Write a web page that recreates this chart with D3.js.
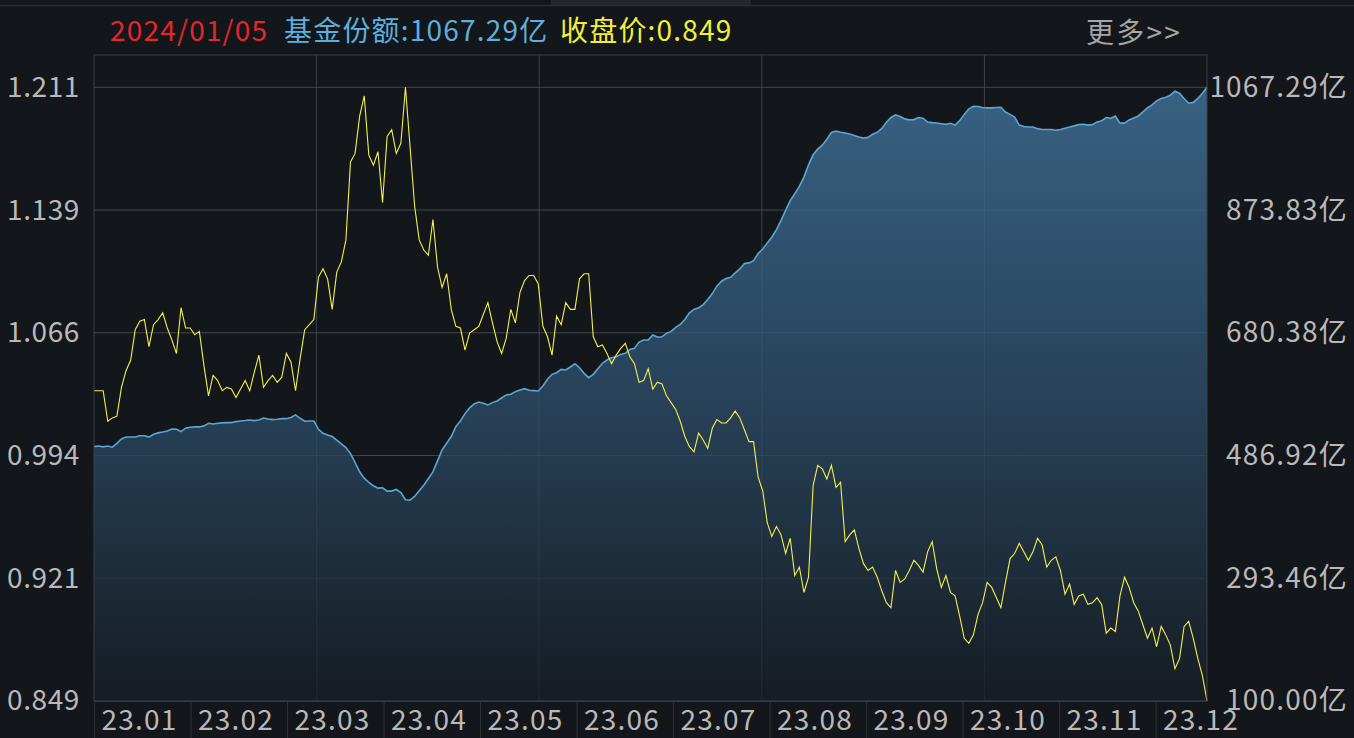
<!DOCTYPE html>
<html>
<head>
<meta charset="utf-8">
<script src="https://cdn.jsdelivr.net/npm/d3@7/dist/d3.min.js"></script>
<style>
html, body { margin: 0; padding: 0; background: #13161a; overflow: hidden; }
#chart text { font-family: "Noto Sans CJK SC", "Noto Sans", sans-serif; }
</style>
</head>
<body>
<div id="chart"></div>
<script>
// month boxes on the bottom strip
var monthLabels = ['23.01', '23.02', '23.03', '23.04', '23.05', '23.06',
	'23.07', '23.08', '23.09', '23.10', '23.11', '23.12'];

// left axis (close price) and right axis (fund shares, 亿)
var priceTicks = ['1.211', '1.139', '1.066', '0.994', '0.921', '0.849'];
var shareTicks = [1067.29, 873.83, 680.38, 486.92, 293.46, 100.00];

var lastDate = '2024/01/05';
var lastShares = '1067.29亿';
var lastClose = '0.849';

// daily close price, 2023-01 .. 2024-01-05
var closePrice = [
	1.032, 1.032, 1.032, 1.014, 1.016, 1.017, 1.034, 1.044, 1.050, 1.068,
	1.073, 1.074, 1.058, 1.071, 1.074, 1.078, 1.069, 1.062, 1.054, 1.081,
	1.069, 1.069, 1.065, 1.067, 1.047, 1.029, 1.041, 1.038, 1.032, 1.034,
	1.033, 1.028, 1.033, 1.038, 1.032, 1.043, 1.053, 1.034, 1.038, 1.041,
	1.037, 1.040, 1.054, 1.049, 1.032, 1.051, 1.068, 1.071, 1.074, 1.099,
	1.104, 1.098, 1.080, 1.102, 1.108, 1.121, 1.167, 1.172, 1.194, 1.206,
	1.171, 1.165, 1.173, 1.143, 1.182, 1.186, 1.172, 1.178, 1.211, 1.176,
	1.141, 1.121, 1.115, 1.112, 1.133, 1.105, 1.093, 1.101, 1.080, 1.070,
	1.069, 1.056, 1.066, 1.068, 1.070, 1.077, 1.084, 1.072, 1.061, 1.054,
	1.063, 1.080, 1.072, 1.090, 1.097, 1.100, 1.100, 1.095, 1.070, 1.064,
	1.053, 1.076, 1.071, 1.084, 1.080, 1.080, 1.098, 1.101, 1.101, 1.064,
	1.058, 1.059, 1.054, 1.048, 1.053, 1.057, 1.060, 1.052, 1.048, 1.037,
	1.038, 1.045, 1.033, 1.037, 1.036, 1.029, 1.025, 1.021, 1.014, 1.005,
	0.999, 0.996, 1.007, 1.003, 0.998, 1.010, 1.015, 1.013, 1.013, 1.016,
	1.020, 1.016, 1.009, 1.002, 1.002, 0.981, 0.973, 0.954, 0.946, 0.952,
	0.947, 0.936, 0.945, 0.923, 0.928, 0.913, 0.922, 0.976, 0.988, 0.986,
	0.980, 0.988, 0.975, 0.978, 0.943, 0.947, 0.950, 0.939, 0.930, 0.926,
	0.928, 0.922, 0.914, 0.907, 0.904, 0.926, 0.919, 0.921, 0.926, 0.932,
	0.929, 0.925, 0.937, 0.943, 0.927, 0.916, 0.923, 0.913, 0.911, 0.899,
	0.886, 0.883, 0.888, 0.900, 0.907, 0.919, 0.916, 0.910, 0.904, 0.919,
	0.933, 0.936, 0.942, 0.937, 0.932, 0.937, 0.945, 0.941, 0.928, 0.932,
	0.934, 0.926, 0.912, 0.918, 0.906, 0.911, 0.912, 0.906, 0.907, 0.910,
	0.906, 0.889, 0.892, 0.890, 0.911, 0.922, 0.916, 0.907, 0.902, 0.894,
	0.886, 0.892, 0.881, 0.893, 0.888, 0.882, 0.868, 0.874, 0.893, 0.896,
	0.886, 0.874, 0.864, 0.849
];

// daily fund shares (亿份)
var fundShares = [
	501.0, 502.0, 500.5, 502.0, 500.0, 506.0, 513.0, 516.0, 516.0, 516.0,
	518.0, 518.0, 516.0, 520.5, 522.6, 524.0, 525.7, 528.8, 528.3, 524.6,
	530.0, 531.5, 532.0, 532.0, 533.6, 537.8, 536.7, 537.8, 538.3, 538.8,
	538.8, 540.4, 541.4, 542.0, 543.0, 542.0, 543.0, 546.0, 544.6, 543.5,
	544.0, 545.0, 545.0, 547.0, 551.0, 545.6, 540.9, 541.4, 541.4, 528.3,
	522.0, 519.4, 516.8, 511.0, 505.3, 499.5, 490.0, 475.9, 461.2, 451.2,
	444.4, 439.2, 435.5, 436.0, 430.8, 430.8, 433.4, 428.7, 417.2, 416.7,
	422.4, 431.3, 440.2, 450.7, 461.2, 478.5, 495.8, 506.3, 516.8, 532.5,
	541.4, 553.0, 562.0, 568.2, 571.3, 569.2, 566.6, 570.3, 572.9, 577.6,
	582.4, 583.4, 587.6, 590.2, 592.3, 589.7, 589.2, 588.6, 596.5, 607.0,
	614.9, 617.5, 622.7, 621.7, 626.4, 631.6, 625.3, 616.4, 609.6, 614.9,
	623.8, 632.2, 637.4, 641.1, 642.7, 646.3, 647.9, 654.2, 655.8, 665.7,
	668.9, 668.9, 677.0, 673.6, 674.1, 679.3, 682.5, 688.8, 693.5, 701.4,
	711.8, 717.1, 719.7, 724.9, 732.8, 742.2, 753.8, 761.6, 765.8, 767.9,
	774.8, 781.0, 789.4, 790.5, 794.1, 805.2, 812.5, 822.0, 831.4, 842.9,
	857.6, 873.3, 888.5, 899.5, 911.1, 925.8, 945.1, 960.9, 969.8, 976.1,
	985.5, 996.0, 998.3, 996.5, 995.3, 993.7, 991.5, 988.8, 987.2, 988.3,
	993.2, 996.4, 1002.4, 1012.1, 1019.7, 1024.0, 1021.3, 1017.5, 1015.9, 1016.4,
	1019.7, 1018.6, 1012.6, 1011.6, 1011.0, 1009.9, 1008.9, 1010.5, 1007.8, 1014.8,
	1024.6, 1033.2, 1037.5, 1037.0, 1035.4, 1034.8, 1034.8, 1035.4, 1035.9, 1028.3,
	1024.6, 1020.2, 1007.8, 1005.6, 1004.6, 1004.6, 1002.1, 1000.8, 1000.8, 1000.8,
	999.6, 1000.8, 1002.7, 1004.6, 1006.5, 1008.4, 1009.0, 1007.7, 1008.4, 1012.7,
	1014.6, 1019.6, 1018.4, 1022.1, 1010.9, 1010.9, 1015.9, 1019.0, 1022.1, 1028.4,
	1034.7, 1039.7, 1046.0, 1049.7, 1051.6, 1054.8, 1061.0, 1057.9, 1049.7, 1042.2,
	1043.5, 1049.7, 1057.9, 1067.29
];

var width = 1354, height = 738;
var plotLeft = 94, plotRight = 1207, plotTop = 55, plotBottom = 701, gridTop = 87.3;
var labelColor = '#b9b9b9';
var gridColor = '#363a40';
var fontSize = '28px';
var spacing = '1.2px';

var svg = d3.select('#chart')
	.append('svg')
	.attr('width', width)
	.attr('height', height)
	.style('background-color', '#13161a')
	.style('display', 'block');

var x = d3.scaleLinear().domain([0, closePrice.length - 1]).range([plotLeft, plotRight]);
var yPrice = d3.scaleLinear().domain([0.849, 1.211]).range([plotBottom, gridTop]);
var yShare = d3.scaleLinear().domain([100, 1067.29]).range([plotBottom, gridTop]);
var yLeft = d3.scalePoint().domain(priceTicks).range([gridTop, plotBottom]);
var xMonth = d3.scaleBand().domain(monthLabels).range([94.6, 94.6 + 96.5 * 12]);

function vx(d) {
	return plotLeft + (plotRight - plotLeft) * d / 5;
}

// top strip
svg.append('line')
	.attr('x1', 0).attr('x2', width)
	.attr('y1', 5.5).attr('y2', 5.5)
	.style('stroke', '#2b2e34')
	.style('stroke-width', 1.5);
svg.append('rect')
	.attr('x', 551).attr('y', 0)
	.attr('width', 200).attr('height', 5)
	.style('fill', '#24272c');

// header
var header = [
	{text: lastDate, x: 110, color: '#e5262b'},
	{text: '基金份额:' + lastShares, x: 284, color: '#5eafdc'},
	{text: '收盘价:' + lastClose, x: 560, color: '#f3ee3a'}
];
svg.selectAll('.header').data(header).enter().append('text')
	.attr('class', 'header')
	.attr('x', function(d) { return d.x; })
	.attr('y', 41)
	.style('font-size', fontSize)
	.style('letter-spacing', spacing)
	.style('fill', function(d) { return d.color; })
	.text(function(d) { return d.text; });

svg.append('text')
	.attr('x', 1086)
	.attr('y', 43)
	.style('font-size', fontSize)
	.style('letter-spacing', '2.2px')
	.style('fill', '#a5a5a5')
	.text('更多>>');

// gradient for share area
var grad = svg.append('defs').append('linearGradient')
	.attr('id', 'shareFill')
	.attr('gradientUnits', 'userSpaceOnUse')
	.attr('x1', 0).attr('x2', 0)
	.attr('y1', gridTop).attr('y2', plotBottom);
grad.append('stop').attr('offset', '0%').attr('stop-color', '#386182');
grad.append('stop').attr('offset', '55%').attr('stop-color', '#263f55');
grad.append('stop').attr('offset', '100%').attr('stop-color', '#161c23');

// grid
var g = svg.append('g');
g.selectAll('.hgrid').data(shareTicks).enter().append('line')
	.attr('class', 'hgrid')
	.attr('x1', plotLeft).attr('x2', plotRight)
	.attr('y1', function(d) { return yShare(d); })
	.attr('y2', function(d) { return yShare(d); })
	.style('stroke', gridColor)
	.style('stroke-width', 1);

g.selectAll('.vgrid').data(d3.range(1, 5)).enter().append('line')
	.attr('class', 'vgrid')
	.attr('x1', vx).attr('x2', vx)
	.attr('y1', plotTop).attr('y2', plotBottom)
	.style('stroke', gridColor)
	.style('stroke-width', 1);

// share area + line
var area = d3.area()
	.x(function(d, i) { return x(i); })
	.y0(plotBottom)
	.y1(function(d) { return yShare(d); });
var shareLine = d3.line()
	.x(function(d, i) { return x(i); })
	.y(function(d) { return yShare(d); });

svg.append('path')
	.datum(fundShares)
	.attr('d', area)
	.style('fill', 'url(#shareFill)');

// grid lines show faintly through the area
svg.selectAll('.hgrid2').data(shareTicks).enter().append('line')
	.attr('x1', plotLeft).attr('x2', plotRight)
	.attr('y1', function(d) { return yShare(d); })
	.attr('y2', function(d) { return yShare(d); })
	.style('stroke', '#ffffff')
	.style('stroke-opacity', 0.07);
svg.selectAll('.vgrid2').data(d3.range(1, 5)).enter().append('line')
	.attr('x1', vx).attr('x2', vx)
	.attr('y1', plotTop).attr('y2', plotBottom)
	.style('stroke', '#ffffff')
	.style('stroke-opacity', 0.05);

svg.append('path')
	.datum(fundShares)
	.attr('d', shareLine)
	.style('fill', 'none')
	.style('stroke', '#5ba6d2')
	.style('stroke-width', 1.6);

// close price
var priceLine = d3.line()
	.x(function(d, i) { return x(i); })
	.y(function(d) { return yPrice(d); });
svg.append('path')
	.datum(closePrice)
	.attr('d', priceLine)
	.style('fill', 'none')
	.style('stroke', '#f4f04a')
	.style('stroke-width', 1.1);

// plot frame
svg.append('rect')
	.attr('x', plotLeft).attr('y', plotTop)
	.attr('width', plotRight - plotLeft).attr('height', plotBottom - plotTop)
	.style('fill', 'none')
	.style('stroke', '#3d4147')
	.style('stroke-width', 1);

// left axis
var leftAxis = svg.append('g')
	.attr('transform', 'translate(' + 80 + ',0)')
	.call(d3.axisLeft(yLeft).tickSize(0).tickPadding(0));
leftAxis.select('.domain').remove();
leftAxis.selectAll('text')
	.style('font-size', fontSize)
	.style('letter-spacing', '0.6px')
	.style('fill', labelColor);

// right axis, labels flush right
var rightAxis = svg.append('g')
	.attr('transform', 'translate(' + 1348 + ',0)')
	.call(d3.axisRight(yShare).tickValues(shareTicks).tickSize(0).tickPadding(0)
		.tickFormat(function(d) { return d.toFixed(2) + '亿'; }));
rightAxis.select('.domain').remove();
rightAxis.selectAll('text')
	.attr('text-anchor', 'end')
	.style('font-size', fontSize)
	.style('letter-spacing', spacing)
	.style('fill', labelColor);

// bottom month strip
var strip = svg.append('g');
strip.selectAll('.sep').data(monthLabels).enter().append('line')
	.attr('x1', function(d) { return xMonth(d); })
	.attr('x2', function(d) { return xMonth(d); })
	.attr('y1', plotBottom).attr('y2', height)
	.style('stroke', '#2f3338')
	.style('stroke-width', 1);
strip.selectAll('.month').data(monthLabels).enter().append('text')
	.attr('x', function(d) { return xMonth(d) + 7; })
	.attr('y', 730)
	.style('font-size', fontSize)
	.style('letter-spacing', spacing)
	.style('fill', labelColor)
	.text(function(d) { return d; });
</script>
</body>
</html>
